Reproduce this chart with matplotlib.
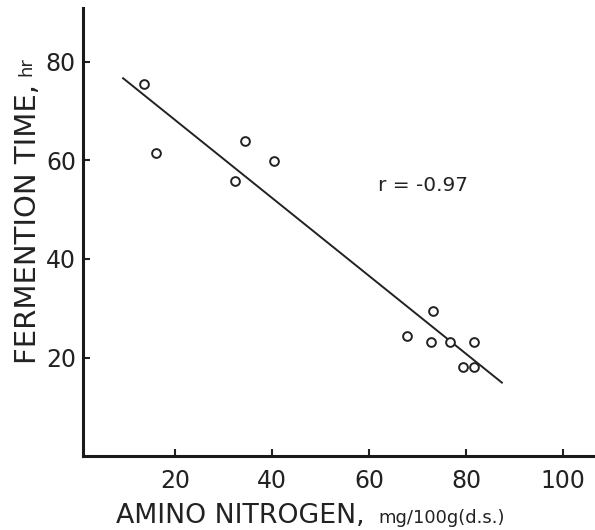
import matplotlib
matplotlib.use("Agg")
import matplotlib.pyplot as plt
import numpy as np

# Data
amino_n = [13.6, 16.1, 32.4, 34.4, 40.4, 67.8, 72.8, 73.2, 76.7, 81.6, 79.4, 81.6]
ferm_time = [75.5, 61.5, 55.8, 64.0, 59.9, 24.4, 23.1, 29.4, 23.1, 23.1, 18.1, 18.1]
fit_x = [9.3, 87.4]
fit_y = [76.7, 14.9]
x_ticks = [20, 40, 60, 80, 100]
y_ticks = [20, 40, 60, 80]
r_text = "r = -0.97"

plt.rcParams['font.family'] = ['DejaVu Sans']

fig = plt.figure(figsize=(5.95, 5.30), dpi=100)
ax = fig.add_axes([0.1392, 0.1396, 0.86, 0.8457])

ax.plot(fit_x, fit_y, color='#222222', lw=1.4, zorder=2)
ax.plot(amino_n, ferm_time, linestyle='none', marker='o', markersize=6.3,
        markerfacecolor='white', markeredgecolor='#222222', markeredgewidth=1.4, zorder=3)

ax.text(61.9, 55.0, r_text, fontsize=14.5, color='#222222', ha='left', va='center')

ax.set_xlim(1, 106.5)
ax.set_ylim(0, 91)
ax.set_xticks(x_ticks)
ax.set_yticks(y_ticks)
for s in ['top', 'right']:
    ax.spines[s].set_visible(False)
for s in ['left', 'bottom']:
    ax.spines[s].set_linewidth(2.2)
    ax.spines[s].set_color('#1a1a1a')
ax.tick_params(axis='both', direction='in', length=5, width=1.5, colors='#222222',
               labelsize=17, labelcolor='#222222')
ax.tick_params(axis='y', pad=5)
ax.tick_params(axis='x', pad=9)

# Axis labels built from pieces of different size
fig.text(116/595, 7/530, "AMINO NITROGEN,", fontsize=19.3, color='#222222',
         ha='left', va='baseline')
fig.text(378/595, 7/530, "mg/100g(d.s.)", fontsize=13, color='#222222',
         ha='left', va='baseline')
fig.text(28/595, (530-364)/530, "FERMENTION TIME,", fontsize=21, color='#222222',
         rotation=90, ha='center', va='bottom')
fig.text(26/595, (530-57)/530, "hr", fontsize=13, color='#222222',
         rotation=90, ha='center', va='top')

fig.savefig("out.png", dpi=100)
